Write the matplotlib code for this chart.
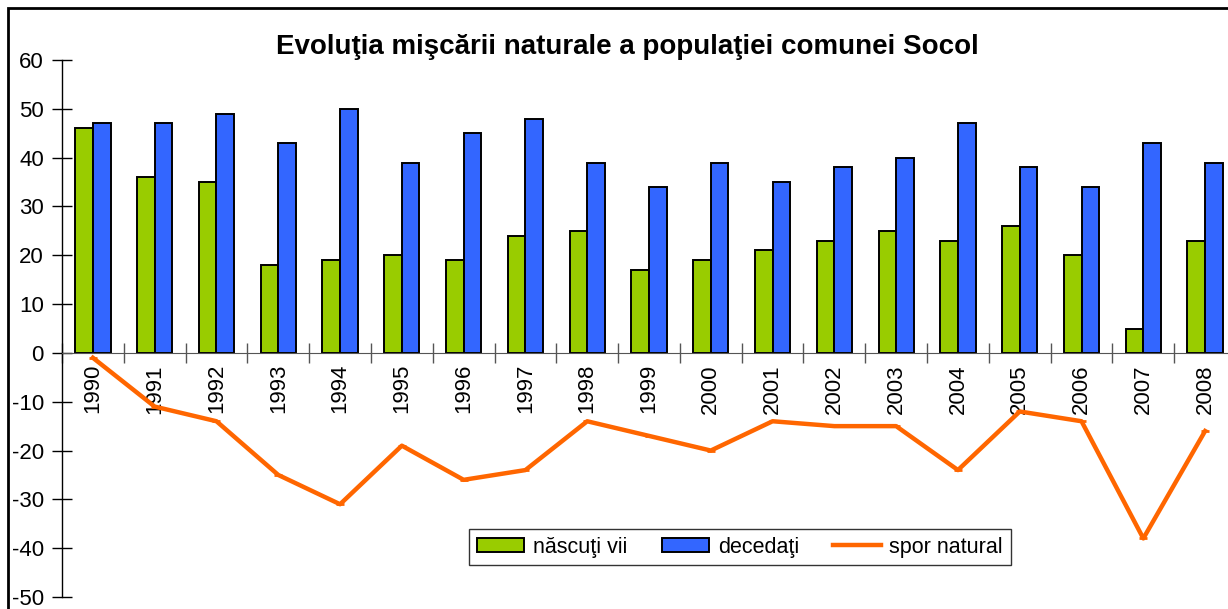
import matplotlib
matplotlib.use('Agg')
import matplotlib.pyplot as plt
import matplotlib.ticker as mticker
from matplotlib.patches import Rectangle
import numpy as np

plt.rcParams['font.family'] = ['Liberation Sans', 'DejaVu Sans']
plt.rcParams['axes.unicode_minus'] = False

years = [str(y) for y in range(1990, 2009)]
nascuti = [46, 36, 35, 18, 19, 20, 19, 24, 25, 17, 19, 21, 23, 25, 23, 26, 20, 5, 23]
decedati = [47, 47, 49, 43, 50, 39, 45, 48, 39, 34, 39, 35, 38, 40, 47, 38, 34, 43, 39]
spor = [-1, -11, -14, -25, -31, -19, -26, -24, -14, -17, -20, -14, -15, -15, -24, -12, -14, -38, -16]

W, H = 1228, 609
fig = plt.figure(figsize=(W / 100, H / 100), dpi=100)
fig.patch.set_facecolor('white')

# chenar exterior (iese din imagine la dreapta si jos)
fig.patches.append(Rectangle((8 / W, -0.05), 1.1, 1 - 8 / H + 0.05, transform=fig.transFigure,
                             fill=False, edgecolor='black', lw=2))

ax = fig.add_axes([62 / W, 1 - 597 / H, 1174 / W, 537 / H])
x = np.arange(len(years))
bw = 0.285
b1 = ax.bar(x - bw / 2, nascuti, bw, color='#99CC00', edgecolor='black', lw=1.4, label='născuţi vii', zorder=2)
b2 = ax.bar(x + bw / 2, decedati, bw, color='#3366FF', edgecolor='black', lw=1.4, label='decedaţi', zorder=2)
l1, = ax.plot(x, spor, color='#FF6600', lw=3.2, label='spor natural', zorder=3,
              marker='_', markersize=6, markeredgewidth=2)

ax.set_xlim(-0.5, len(years) - 0.5)
ax.set_ylim(-50, 60)
ax.set_facecolor('none')
for s in ['top', 'right']:
    ax.spines[s].set_visible(False)
ax.spines['bottom'].set_position(('data', 0))
ax.spines['bottom'].set_color('#555555')
ax.spines['left'].set_linewidth(1)

ax.yaxis.set_major_locator(mticker.MultipleLocator(10))
ax.tick_params(axis='y', direction='inout', length=14, width=1, labelsize=16, pad=6)

ax.set_xticks(np.arange(len(years) + 1) - 0.5)
ax.set_xticklabels([])
ax.set_xticks(x, minor=True)
ax.set_xticklabels(years, minor=True, rotation=90, fontsize=16)
ax.tick_params(axis='x', which='major', direction='inout', length=14, width=1, color='#555555')
ax.tick_params(axis='x', which='minor', length=0, pad=8)

fig.text(627 / W, 1 - 47 / H, 'Evoluţia mişcării naturale a populaţiei comunei Socol',
         ha='center', va='center', fontsize=20, fontweight='bold')

leg = ax.legend([b1, b2, l1], ['născuţi vii', 'decedaţi', 'spor natural'],
                loc='center', bbox_to_anchor=((740 - 62) / 1174, (609 - 547 - 12) / 537), ncol=3,
                fontsize=15.5, frameon=True, fancybox=False, edgecolor='black',
                handlelength=2.2, handleheight=0.6, columnspacing=1.6, handletextpad=0.4,
                borderpad=0.35)
leg.get_frame().set_linewidth(1)

fig.savefig('out.png', dpi=100, facecolor='white')
